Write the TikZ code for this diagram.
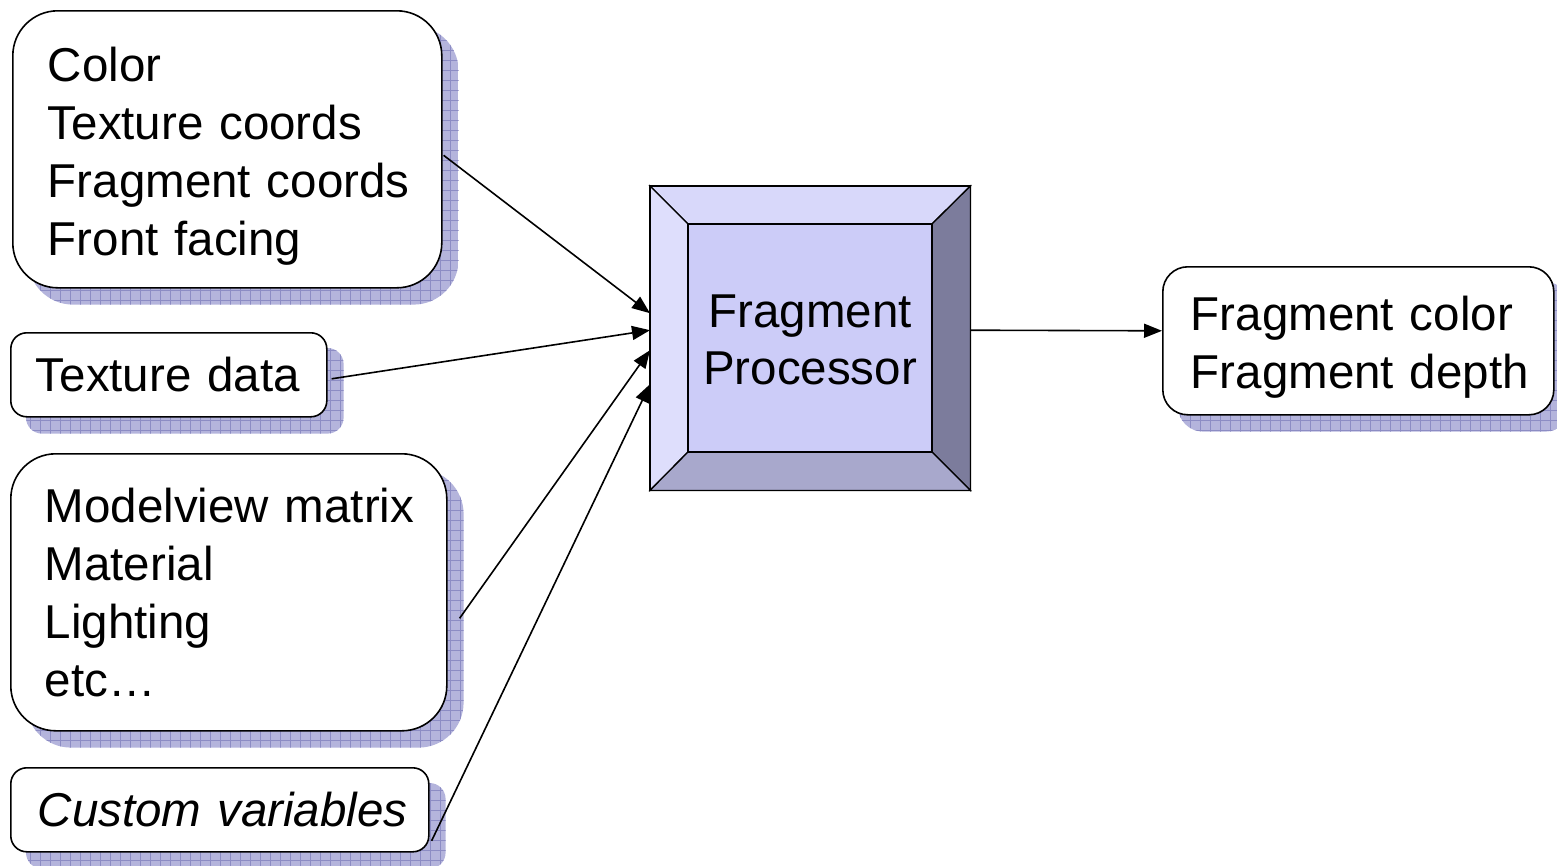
\documentclass[tikz,border=0pt]{standalone}
\usepackage{fontspec}
\setmainfont{Liberation Sans}
\usetikzlibrary{arrows.meta,backgrounds}
\definecolor{shcol}{RGB}{180,180,220}
\definecolor{shgrid}{RGB}{140,140,196}
\definecolor{bvtop}{RGB}{216,216,250}
\definecolor{bvleft}{RGB}{222,222,252}
\definecolor{bvin}{RGB}{204,204,248}
\definecolor{bvright}{RGB}{124,124,156}
\definecolor{bvbot}{RGB}{168,168,204}
\tikzset{
  txt/.style={font=\fontsize{47.5}{58}\selectfont},
  inbox/.style={draw=black, line width=1.6pt, fill=white, align=left, anchor=north west, inner ysep=0pt, txt},
  conn/.style={draw=black, line width=1.6pt, -{Triangle[length=18pt,width=14pt]}},
}
\newcommand{\mkshadow}[2]{%
  \begin{scope}
    \clip[rounded corners=#2] ([shift={(16,-16)}]#1.south west) rectangle ([shift={(16,-16)}]#1.north east);
    \fill[shcol] ([shift={(16,-16)}]#1.south west) rectangle ([shift={(16,-16)}]#1.north east);
    \draw[shgrid, line width=0.6pt, step=10] ([shift={(6,-26)}]#1.south west) grid ([shift={(26,-6)}]#1.north east);
  \end{scope}}
\begin{document}
\begin{tikzpicture}[x=1pt,y=1pt]
\useasboundingbox (0,0) rectangle (1557,-865);

% input boxes
\node[inbox, rounded corners=45, inner xsep=35, text width=359, minimum height=277] (b1) at (12,-10)
  {\mbox{\rule{0pt}{48pt}Color}\\\mbox{Texture coords}\\\mbox{Fragment coords}\\\mbox{Front facing}};
\node[inbox, rounded corners=16, inner xsep=25, text width=266, minimum height=84] (b2) at (10,-332)
  {\mbox{Texture data}};
\node[inbox, rounded corners=45, inner xsep=34, text width=368, minimum height=277] (b3) at (10,-453)
  {\mbox{Modelview matrix}\\\mbox{Material}\\\mbox{Lighting}\\\mbox{etc\ldots}};
\node[inbox, rounded corners=16, inner xsep=27, text width=364, minimum height=84] (b4) at (10,-767)
  {\mbox{\itshape Custom variables}};
\node[inbox, rounded corners=25, inner xsep=28, text width=335, minimum height=148] (out) at (1162,-266)
  {\mbox{\rule{0pt}{48pt}Fragment color}\\\mbox{Fragment depth}};

\begin{scope}[on background layer]
  \mkshadow{b1}{45}
  \mkshadow{b2}{16}
  \mkshadow{b3}{45}
  \mkshadow{b4}{16}
  \mkshadow{out}{25}
\end{scope}

% fragment processor
\node[minimum width=320, minimum height=304, inner sep=0pt, anchor=north west] (fp) at (650,-186) {};
\coordinate (iNW) at (688,-224);
\coordinate (iNE) at (932,-224);
\coordinate (iSE) at (932,-452);
\coordinate (iSW) at (688,-452);
\begin{scope}[draw=black, line width=1.3pt, line join=miter]
  \filldraw[fill=bvtop] (fp.north west) -- (fp.north east) -- (iNE) -- (iNW) -- cycle;
  \filldraw[fill=bvleft] (fp.north west) -- (iNW) -- (iSW) -- (fp.south west) -- cycle;
  \filldraw[fill=bvright] (fp.north east) -- (fp.south east) -- (iSE) -- (iNE) -- cycle;
  \filldraw[fill=bvbot] (fp.south west) -- (iSW) -- (iSE) -- (fp.south east) -- cycle;
  \filldraw[fill=bvin] (iNW) rectangle (iSE);
  \draw[line width=1.8pt] (fp.north west) rectangle (fp.south east);
\end{scope}
\node[txt, align=center, font=\fontsize{47.5}{57}\selectfont] (fptext) at (810,-340) {Fragment\\Processor};

% connectors
\draw[conn] ([shift={(1,-6)}]b1.east) -- ([yshift=25]fp.west);
\draw[conn] ([shift={(4,-4)}]b2.east) -- ([yshift=8]fp.west);
\draw[conn] ([shift={(12,-26)}]b3.east) -- ([yshift=-12]fp.west);
\draw[conn] ([shift={(2,-31)}]b4.east) -- ([yshift=-46]fp.west);
\draw[conn] ([yshift=8]fp.east) -- ([yshift=10]out.west);
\end{tikzpicture}
\end{document}
